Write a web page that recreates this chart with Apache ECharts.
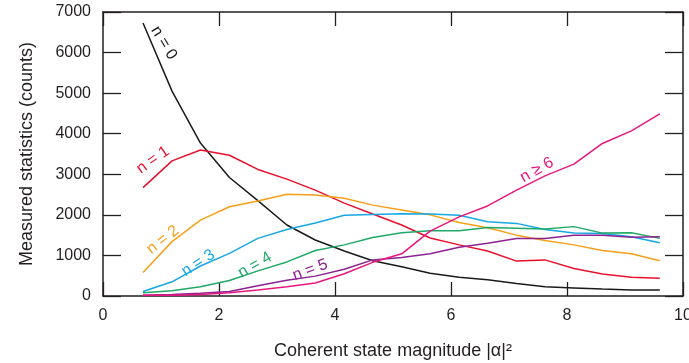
<!DOCTYPE html>
<html>
<head>
<meta charset="utf-8">
<script src="https://cdn.jsdelivr.net/npm/echarts@6/dist/echarts.min.js"></script>
<style>
  html, body { margin: 0; padding: 0; background: #fff; }
  #chart { width: 689px; height: 363px; }
</style>
</head>
<body>
<div id="chart"></div>
<script>
// coherent state magnitude |alpha|^2 for each measurement
var alphaSq = [0.69, 1.19, 1.68, 2.18, 2.67, 3.17, 3.66, 4.16, 4.65, 5.15, 5.64, 6.14, 6.63, 7.13, 7.62, 8.12, 8.61, 9.11, 9.60];

var n0 = [6730, 5050, 3770, 2920, 2350, 1750, 1380, 1110, 870, 720, 560, 460, 400, 310, 230, 200, 170, 150, 145];
var n1 = [2670, 3330, 3600, 3470, 3120, 2880, 2610, 2290, 2020, 1750, 1430, 1260, 1110, 860, 890, 680, 540, 460, 440];
var n2 = [580, 1340, 1870, 2200, 2340, 2510, 2490, 2410, 2240, 2120, 2000, 1810, 1680, 1500, 1370, 1260, 1120, 1040, 870];
var n3 = [110, 350, 740, 1050, 1420, 1640, 1800, 1990, 2010, 2030, 2020, 1990, 1830, 1790, 1640, 1550, 1540, 1460, 1310];
var n4 = [80, 130, 230, 380, 620, 840, 1120, 1260, 1440, 1560, 1610, 1610, 1690, 1670, 1650, 1710, 1550, 1560, 1420];
var n5 = [20, 40, 70, 110, 250, 390, 490, 660, 890, 950, 1040, 1200, 1300, 1420, 1420, 1500, 1500, 1450, 1460];
var n6 = [20, 20, 40, 80, 150, 230, 320, 550, 830, 1040, 1600, 1950, 2220, 2610, 2960, 3250, 3760, 4070, 4490];

var seriesNames = ['n = 0', 'n = 1', 'n = 2', 'n = 3', 'n = 4', 'n = 5', 'n ≥ 6'];
var seriesValues = [n0, n1, n2, n3, n4, n5, n6];
var colors = ['#1a1a1a', '#e8112d', '#f6a01a', '#17a7e3', '#20a867', '#8c2291', '#e8177f'];

// where each curve label sits (data coords) and its tilt in degrees
var labelPos = [[1.05, 6236], [0.86, 3352], [1.03, 1380], [1.64, 813], [2.62, 764], [3.57, 641], [7.48, 3106]];
var labelAngle = [-59, 35, 38, 33, 30, 20, 29];

var font = 'Liberation Sans, Arial, sans-serif';
var axisColor = '#231f20';

var chartDom = document.getElementById('chart');
var myChart = echarts.init(chartDom);

var series = seriesValues.map(function (vals, i) {
  return {
    name: seriesNames[i],
    type: 'line',
    xAxisIndex: 0,
    yAxisIndex: 0,
    showSymbol: false,
    smooth: false,
    lineStyle: { color: colors[i], width: 1.5 },
    data: vals.map(function (v, k) { return [alphaSq[k], v]; })
  };
});

function boxAxis(extra) {
  var ax = {
    type: 'value',
    axisLine: { show: true, onZero: false, lineStyle: { color: axisColor, width: 1.5 } },
    axisTick: { show: true, inside: true, lineStyle: { color: axisColor, width: 1.3 } },
    axisLabel: { fontFamily: font, fontSize: 16, color: '#231f20', margin: 12 },
    splitLine: { show: false }
  };
  return Object.assign(ax, extra);
}

var option = {
  animation: false,
  grid: { left: 103, right: 6, top: 12, bottom: 67, outerBoundsMode: 'none', containLabel: false },
  xAxis: [
    boxAxis({
      min: 0, max: 10, interval: 2,
      name: 'Coherent state magnitude |α|²',
      nameLocation: 'middle',
      nameGap: 46,
      nameTextStyle: { fontFamily: font, fontSize: 18, color: '#231f20' }
    }),
    boxAxis({ position: 'top', min: 0, max: 10, interval: 2 })
  ],
  yAxis: [
    boxAxis({
      min: 0, max: 7000, interval: 1000,
      name: 'Measured statistics (counts)',
      nameLocation: 'middle',
      nameGap: 67,
      nameTextStyle: { fontFamily: font, fontSize: 18, color: '#231f20' }
    }),
    boxAxis({ position: 'right', min: 0, max: 7000, interval: 1000 })
  ],
  series: series
};

option.xAxis[0].axisTick.length = 14;
option.xAxis[1].axisTick.length = 14;
option.xAxis[1].axisLabel = { show: false };
option.yAxis[0].axisTick.length = 18;
option.yAxis[0].axisLabel.formatter = function (v) { return String(v); };
option.yAxis[1].axisTick.length = 18;
option.yAxis[1].axisLabel = { show: false };

myChart.setOption(option);

// curve labels, placed from data coordinates
var texts = labelPos.map(function (p, i) {
  var px = myChart.convertToPixel({ xAxisIndex: 0, yAxisIndex: 0 }, p);
  return {
    type: 'text',
    x: px[0],
    y: px[1],
    rotation: labelAngle[i] * Math.PI / 180,
    style: {
      text: seriesNames[i],
      fill: colors[i],
      font: '16px ' + font,
      textAlign: 'center',
      textVerticalAlign: 'middle'
    }
  };
});
myChart.setOption({ graphic: texts });
</script>
</body>
</html>
